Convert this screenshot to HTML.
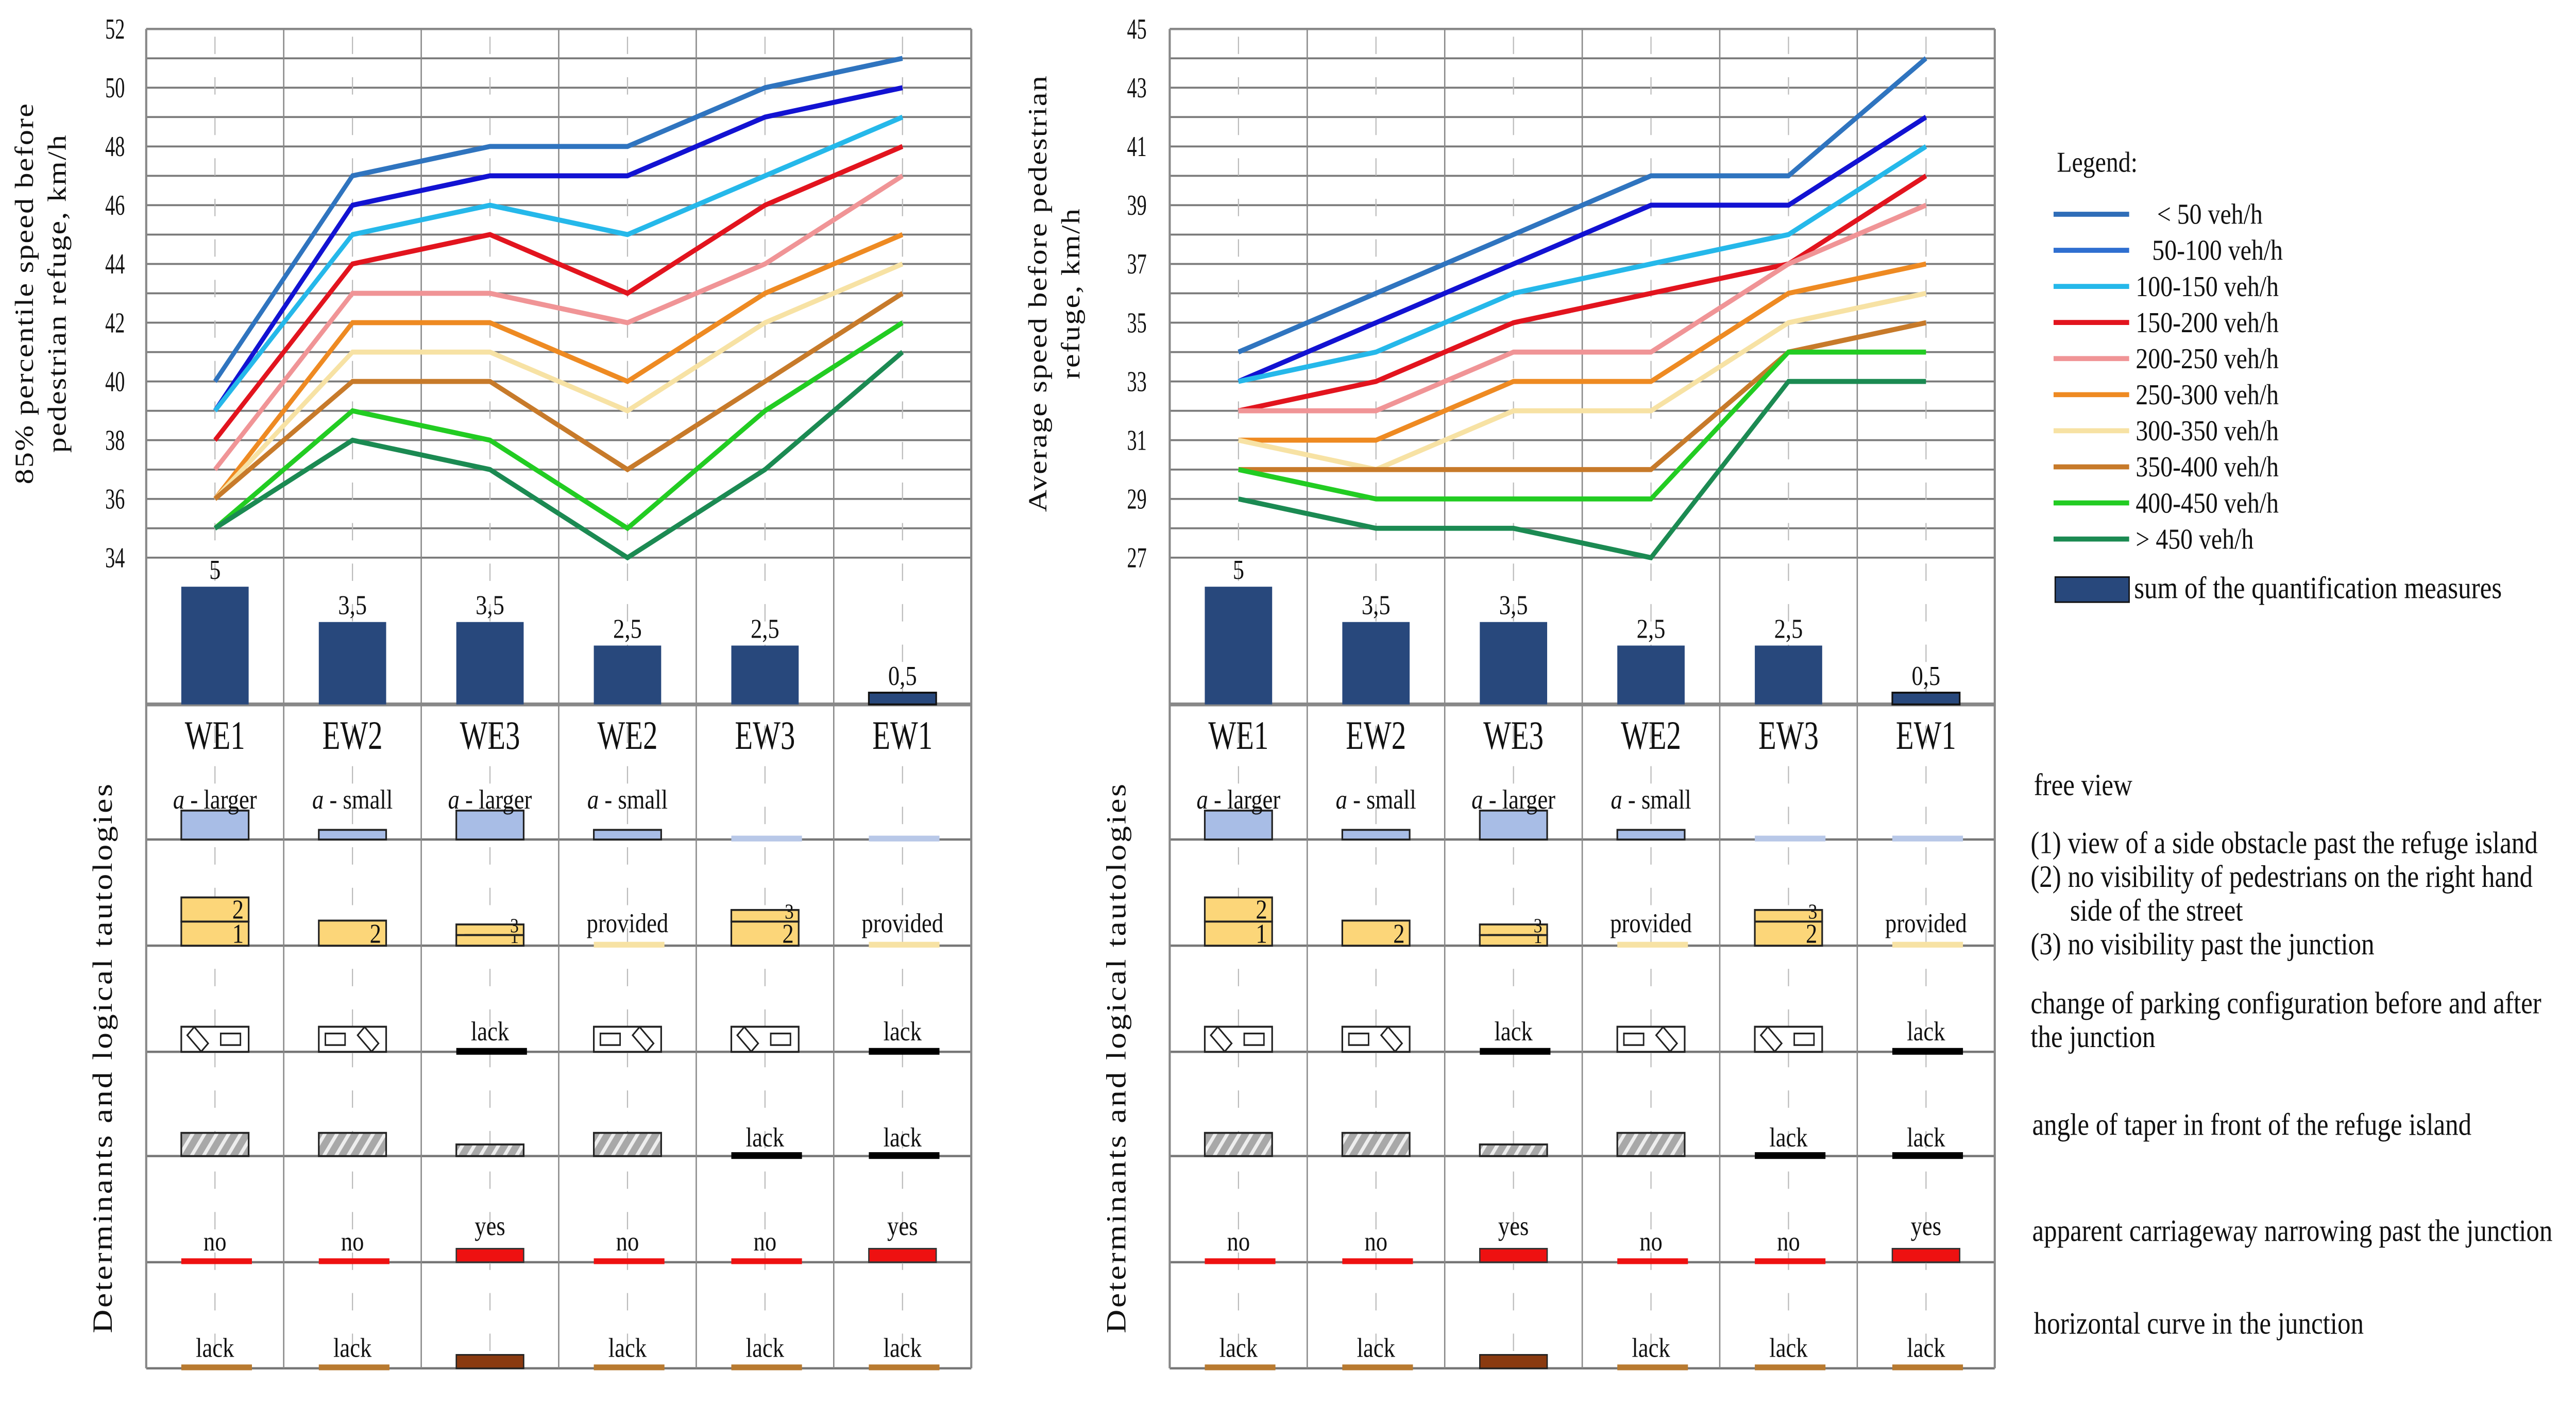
<!DOCTYPE html>
<html><head><meta charset="utf-8"><style>
html,body{margin:0;padding:0;background:#fff;overflow:hidden;width:100vw;height:100vh;}
svg{display:block;width:100vw;height:100vh;}
text{font-family:"Liberation Serif",serif;fill:#111;}
</style></head><body>
<svg id="chart" xmlns="http://www.w3.org/2000/svg" viewBox="0 0 1568 728" preserveAspectRatio="none">
<rect x="0" y="0" width="1568" height="728" fill="#fff"/>
<g id="layer"></g>
</svg>
<script>
const categories = ["WE1","EW2","WE3","WE2","EW3","EW1"];
const seriesNames = ["< 50 veh/h","50-100 veh/h","100-150 veh/h","150-200 veh/h","200-250 veh/h","250-300 veh/h","300-350 veh/h","350-400 veh/h","400-450 veh/h","> 450 veh/h"];
const seriesColors = ["#2f74bf","#1212d2","#25b8ea","#e2141e","#f09496","#ee8a22","#f7e2a4","#c77a2a","#22cc22","#1b8a52"];
const legendColors = ["#2f6db8","#2f6fd0","#25b8ea","#e2141e","#f09496","#ee8a22","#f7e2a4","#c77a2a","#22cc22","#1b8a52"];
const leftValues = [
 [40,47,48,48,50,51],
 [39,46,47,47,49,50],
 [39,45,46,45,47,49],
 [38,44,45,43,46,48],
 [37,43,43,42,44,47],
 [36,42,42,40,43,45],
 [36,41,41,39,42,44],
 [36,40,40,37,40,43],
 [35,39,38,35,39,42],
 [35,38,37,34,37,41]
];
const rightValues = [
 [34,36,38,40,40,44],
 [33,35,37,39,39,42],
 [33,34,36,37,38,41],
 [32,33,35,36,37,40],
 [32,32,34,34,37,39],
 [31,31,33,33,36,37],
 [31,30,32,32,35,36],
 [30,30,30,30,34,35],
 [30,29,29,29,34,34],
 [29,28,28,27,33,33]
];
const sumValues = [5,3.5,3.5,2.5,2.5,0.5];
const sumLabels = ["5","3,5","3,5","2,5","2,5","0,5"];
const leftTicks = [52,50,48,46,44,42,40,38,36,34];
const rightTicks = [45,43,41,39,37,35,33,31,29,27];
const viewLabels = ["larger","small","larger","small","",""];
const viewHeights = [15,5,15,5,0,0];
const visParts = [["2","1"],["2"],["3","1"],[],["3","2"],[]];
const parkingPresent = [true,true,false,true,true,false];
const parkingOrder = ["rl","lr","","lr","rl",""];
const taperHeights = [12,12,6,12,0,0];
const narrowing = ["no","no","yes","no","no","yes"];
const curve = [false,false,true,false,false,false];
const rowDescriptions = [
 {y:412,lines:["free view"],x:1238},
 {y:442,lines:["(1) view of a side obstacle past the refuge island","(2) no visibility of pedestrians on the right hand","      side of the street","(3) no visibility past the junction"],x:1236},
 {y:525,lines:["change of parking configuration before and after","the junction"],x:1236},
 {y:588,lines:["angle of taper in front of the refuge island"],x:1237},
 {y:643,lines:["apparent carriageway narrowing past the junction"],x:1237},
 {y:691,lines:["horizontal curve in the junction"],x:1238}
];

const NS="http://www.w3.org/2000/svg";
const layer=document.getElementById('layer');
function el(tag,attrs,parent,txt){const e=document.createElementNS(NS,tag);for(const k in attrs)e.setAttribute(k,attrs[k]);if(txt!==undefined)e.textContent=txt;(parent||layer).appendChild(e);return e;}

const TOP=15, UNIT=15.22, BASE=365, BARUNIT=12.2, COLW=83.7;
const rowBounds=[380,435,490,545,599,654,709];

function panel(x0,yMax,yMin,values,ticks,titleLines,titleX,tickX,pid){
  const g=el('g',{});
  
  
  const xR=x0+COLW*6;
  const xc=i=>x0+COLW*(i+0.5);
  const yv=v=>TOP+(yMax-v)*UNIT;
  const yb=v=>BASE-v*BARUNIT;
  for(let v=yMax; v>=yMin; v--){
    const gl=el('line',{x1:x0,x2:xR,y1:yv(v),y2:yv(v),stroke:'#7a7a7a','stroke-width':1},g);
    
    
  }
  for(let r=1;r<rowBounds.length;r++){
    const rl=el('line',{x1:x0,x2:xR,y1:rowBounds[r],y2:rowBounds[r],stroke:'#777','stroke-width':1.2},g);
    
    
  }
  for(let i=0;i<=6;i++){
    const vl=el('line',{x1:x0+COLW*i,x2:x0+COLW*i,y1:TOP,y2:709,stroke:'#888','stroke-width':(i==0||i==6)?1.3:0.8},g);
    
    
  }
  for(let i=0;i<6;i++){
    const dl=el('line',{x1:xc(i),x2:xc(i),y1:TOP+4,y2:705,stroke:'#bbb','stroke-width':0.7,'stroke-dasharray':'9,12'},g);
    
    
  }
  const bl=el('line',{x1:x0,x2:xR,y1:BASE,y2:BASE,stroke:'#888','stroke-width':2},g);
  
  
  ticks.forEach(t=>{
    const tt=el('text',{x:tickX,y:yv(t)+5,'font-size':15,'text-anchor':'middle',transform:`translate(${tickX},0) scale(0.8,1) translate(${-tickX},0)`},g,String(t));
    
    
  });
  titleLines.forEach((ln,k)=>{
    const tx=titleX+k*20, ty=152;
    const t=el('text',{x:tx,y:ty,'font-size':16,'text-anchor':'middle',transform:`rotate(-90 ${tx} ${ty})`,'letter-spacing':'0.6'},g,ln);
    
    
  });
  const dx=titleX+48;
  const dt=el('text',{x:dx,y:548,'font-size':17,'text-anchor':'middle',transform:`rotate(-90 ${dx} 548)`,'letter-spacing':'1'},g,'Determinants and logical tautologies');
  
  
  sumValues.forEach((v,i)=>{
    const h=v*BARUNIT;
    const b=el('rect',{x:xc(i)-20.5,y:yb(v),width:41,height:h,fill:'#28487c',stroke:v<1?'#111':'none','stroke-width':1},g);
    
    
    const bt=el('text',{x:xc(i),y:yb(v)-4,'font-size':14,'text-anchor':'middle'},g,sumLabels[i]);
    
    
  });
  values.forEach((s,k)=>{
    const pts=s.map((v,i)=>xc(i)+','+yv(v)).join(' ');
    const p=el('polyline',{points:pts,fill:'none',stroke:seriesColors[k],'stroke-width':2.6,'stroke-linejoin':'miter'},g);
    
    
  });
  categories.forEach((c,i)=>{
    const t=el('text',{x:xc(i),y:388,'font-size':21,'text-anchor':'middle',transform:`translate(${xc(i)},0) scale(0.85,1) translate(${-xc(i)},0)`},g,c);
    
    
  });
  categories.forEach((c,i)=>{
    const x=xc(i)-20.5;
    if(viewHeights[i]>0){
      const r=el('rect',{x:x,y:435-viewHeights[i],width:41,height:viewHeights[i],fill:'#a8bde6',stroke:'#222','stroke-width':1},g);
      
      
      const t=el('text',{x:xc(i),y:419,'font-size':14,'text-anchor':'middle'},g);
      
      
      el('tspan',{'font-style':'italic'},t,'a'); el('tspan',{},t,' - '+viewLabels[i]);
    } else {
      const r=el('rect',{x:x,y:433,width:43,height:3,fill:'#b8c8e8'},g);
      
      
    }
  });
  categories.forEach((c,i)=>{
    const x=xc(i)-20.5, parts=visParts[i];
    if(parts.length===0){
      const r=el('rect',{x:x,y:488,width:43,height:3,fill:'#f7e2a4'},g);
      
      
      const t=el('text',{x:xc(i),y:483,'font-size':14,'text-anchor':'middle'},g,'provided');
      
      
      return;
    }
    const hs = (c==='WE3')?[5.5,5.5]:(parts.length===1?[13]:[(c==='EW3'?6:12.5),12.5]);
    let y=490;
    for(let k=parts.length-1;k>=0;k--){
      const h=hs[k]; y-=h;
      const r=el('rect',{x:x,y:y,width:41,height:h,fill:'#fcd679',stroke:'#222','stroke-width':1},g);
      
      
      const t=el('text',{x:x+38,y:y+h-1.5,'font-size':Math.min(14,h+5),'text-anchor':'end'},g,parts[k]);
      
      
    }
    if(c==='WE3'){ el('line',{x1:x+5,x2:x+38,y1:484.5,y2:484.5,stroke:'#222','stroke-width':1},g); }
  });
  categories.forEach((c,i)=>{
    const x=xc(i)-20.5;
    if(parkingPresent[i]){
      const r=el('rect',{x:x,y:532,width:41,height:13,fill:'#fff',stroke:'#222','stroke-width':1},g);
      
      
      const lf=parkingOrder[i]==='rl';
      const ax=lf?x+10:x+30, bx=lf?x+30:x+10;
      el('rect',{x:ax-6,y:535.5,width:12,height:6,fill:'none',stroke:'#222','stroke-width':0.9,transform:`rotate(45 ${ax} 538.5)`},g);
      el('rect',{x:bx-6,y:535.5,width:12,height:6,fill:'none',stroke:'#222','stroke-width':0.9},g);
    } else {
      const r=el('rect',{x:x,y:543,width:43,height:3.5,fill:'#000'},g);
      
      
      const t=el('text',{x:xc(i),y:539,'font-size':14,'text-anchor':'middle'},g,'lack');
      
      
    }
  });
  categories.forEach((c,i)=>{
    const x=xc(i)-20.5;
    if(taperHeights[i]>0){
      const r=el('rect',{x:x,y:599-taperHeights[i],width:41,height:taperHeights[i],fill:`url(#hatch-${pid})`,stroke:'#222','stroke-width':1},g);
      
      
    } else {
      const r=el('rect',{x:x,y:597,width:43,height:3.5,fill:'#000'},g);
      
      
      const t=el('text',{x:xc(i),y:594,'font-size':14,'text-anchor':'middle'},g,'lack');
      
      
    }
  });
  categories.forEach((c,i)=>{
    const x=xc(i)-20.5, yes=narrowing[i]==='yes';
    const r=el('rect',{x:x,y:yes?647:652,width:yes?41:43,height:yes?7:3,fill:'#ee1111',stroke:yes?'#333':'none','stroke-width':0.8},g);
    
    
    const t=el('text',{x:xc(i),y:yes?640:648,'font-size':14,'text-anchor':'middle'},g,narrowing[i]);
    
    
  });
  categories.forEach((c,i)=>{
    const x=xc(i)-20.5;
    if(curve[i]){
      const r=el('rect',{x:x,y:702,width:41,height:7,fill:'#8a3a10',stroke:'#222','stroke-width':0.8},g);
      
      
    } else {
      const r=el('rect',{x:x,y:707,width:43,height:3,fill:'#b87a30'},g);
      
      
      const t=el('text',{x:xc(i),y:703,'font-size':14,'text-anchor':'middle'},g,'lack');
      
      
    }
  });
  const fr=el('line',{x1:x0,x2:xR,y1:TOP,y2:TOP,stroke:'#888','stroke-width':1.2},g);
  
  
}
const defs=el('defs',{});
['left','right'].forEach(pid=>{
  const p=el('pattern',{id:'hatch-'+pid,patternUnits:'userSpaceOnUse',width:6,height:6,patternTransform:'rotate(35)'},defs);
  el('rect',{x:0,y:0,width:6,height:6,fill:'#a8a8a8'},p);
  el('rect',{x:0,y:0,width:2,height:6,fill:'#eee'},p);
});

panel(89,52,34,leftValues,leftTicks,['85% percentile speed before','pedestrian refuge, km/h'],20,70,'left');
panel(712,45,27,rightValues,rightTicks,['Average speed before pedestrian','refuge, km/h'],637,692,'right');

const lg=el('g',{});


const lt=el('text',{x:1252,y:89,'font-size':15},lg,'Legend:');


seriesNames.forEach((n,k)=>{
  const y=111+k*18.7;
  const ln=el('line',{x1:1250,x2:1296,y1:y,y2:y,stroke:legendColors[k],'stroke-width':2.6},lg);
  
  
  const tx = k===0?1313:(k===1?1310:1300);
  const t=el('text',{x:tx,y:y+5,'font-size':15},lg,n);
  
  
});
const sb=el('rect',{x:1251,y:299,width:45,height:13,fill:'#28487c',stroke:'#111','stroke-width':0.8},lg);


const st=el('text',{x:1299,y:310,'font-size':16},lg,'sum of the quantification measures');



rowDescriptions.forEach(d=>{
  d.lines.forEach((ln,k)=>{
    const t=el('text',{x:d.x,y:d.y+k*17.5,'font-size':16},null,ln);
    
    
    t.setAttribute('style','white-space:pre');
  });
});
</script>
</body></html>
